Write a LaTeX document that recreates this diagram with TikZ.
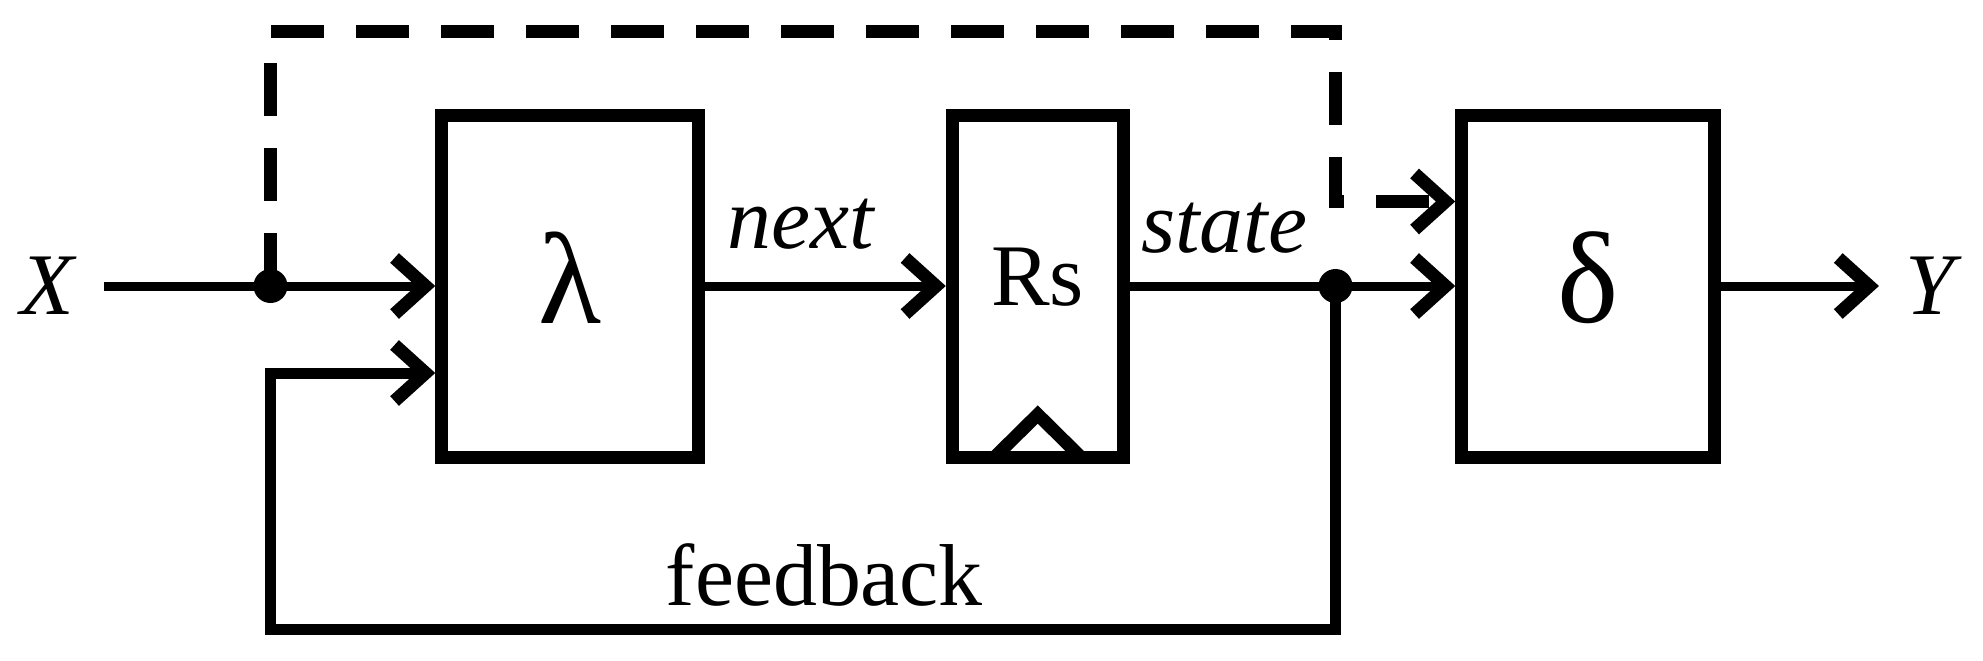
\documentclass[tikz,border=0pt]{standalone}
\usepackage{fontspec}
\setmainfont{Liberation Serif}
\usetikzlibrary{arrows.meta,positioning,calc}

\begin{document}
\begin{tikzpicture}[
    font=\fontsize{25}{30}\selectfont,
    >={Straight Barb[length=3.1mm, width=5.6mm, line width=1.3mm 0]},
    blk/.style={draw, line width=1.3mm, minimum height=3.42cm, inner sep=0pt, text depth=1.7mm, font=\fontsize{37}{44}\selectfont},
    wire/.style={line width=0.9mm, ->},
    dashwire/.style={line width=1.3mm, dash pattern=on 5.3mm off 3.2mm, ->},
    lbl/.style={inner sep=0pt},
    dot/.style={circle, fill, inner sep=0pt, minimum size=3.4mm}
  ]
    \useasboundingbox (0,0) rectangle (19.83,6.60);

    % blocks
    \node[blk, minimum width=2.565cm] (lam) at (5.70,3.74) {λ};
    \node[blk, minimum width=1.71cm, font=\fontsize{25}{30}\selectfont, text depth=1.8mm, right=2.41cm of lam] (rs) {Rs};
    \node[blk, minimum width=2.53cm, right=3.255cm of rs] (dlt) {δ};
    \draw[line width=1.3mm] ([shift={(-4.3mm,0.65mm)}]rs.south) -- ++(0.43,0.425) -- ++(0.43,-0.425);

    % in / out
    \node[lbl, inner xsep=2.6mm] (xin) at (0.49,3.74) {\textit{X}};
    \node[lbl, inner xsep=2.6mm] (yout) at (19.34,3.74) {\textit{Y}};
    \node[dot] (jx) at (2.705,3.74) {};
    \node[dot] (js) at (13.355,3.74) {};

    \coordinate (fbin) at ([yshift=-8.7mm]lam.west);
    \coordinate (dsin) at ([yshift=8.45mm]dlt.west);
    \coordinate (bot) at (0,0.305);
    \coordinate (top) at (0,6.285);

    % signals
    \draw[wire] (xin) -- (lam);
    \draw[wire] (lam) -- node[lbl, pos=.4, above=3.2mm] {\textit{next}} (rs);
    \draw[wire] (rs) -- node[lbl, pos=.29, above=2.8mm] {\textit{state}} (dlt);
    \draw[wire] (dlt) -- (yout);
    \draw[wire, line width=1.1mm] (js.center) -- (js |- bot)
      -- node[lbl, pos=.48, above=1.75mm] {feedback} (jx |- bot) -- (jx |- fbin) -- (fbin);
    \draw[dashwire] (jx.center) -- (jx |- top) -| (js |- dsin) -- (dsin);
\end{tikzpicture}
\end{document}
